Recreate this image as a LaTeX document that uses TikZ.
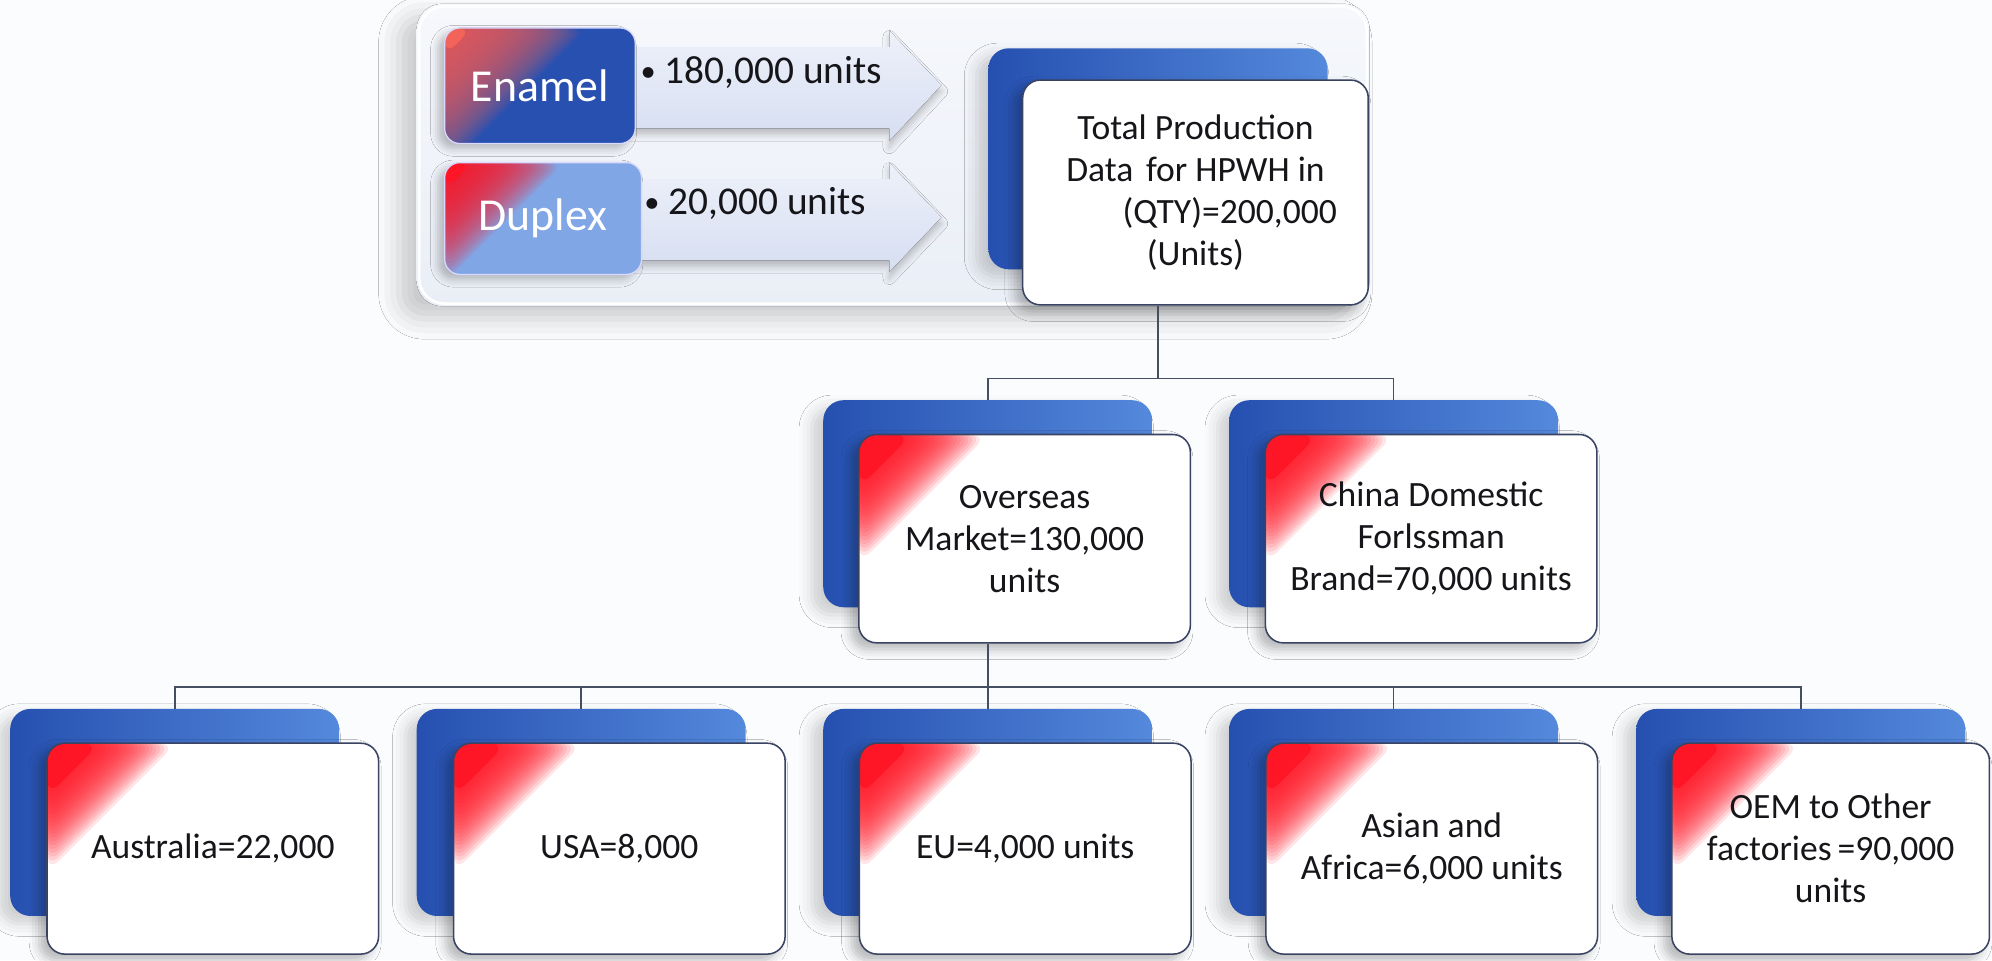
\documentclass[tikz,border=0pt]{standalone}
\usepackage{fontspec}
\setmainfont{Carlito}
\usetikzlibrary{shadows.blur,calc}
\definecolor{bgc}{RGB}{251,252,254}
\definecolor{cRed}{RGB}{255,22,38}
\definecolor{cSal}{RGB}{242,100,90}
\definecolor{cEnBlue}{RGB}{40,80,176}
\definecolor{cDupBlue}{RGB}{128,166,230}
\definecolor{cBackD}{RGB}{38,80,176}
\definecolor{cBackL}{RGB}{84,137,220}
\definecolor{cEdge}{RGB}{58,68,98}
\definecolor{cLine}{RGB}{70,78,98}
\definecolor{cPanT}{RGB}{246,248,252}
\definecolor{cPanB}{RGB}{234,238,246}
\definecolor{cArrT}{RGB}{238,241,250}
\definecolor{cArrB}{RGB}{214,222,241}
\definecolor{cTxt}{RGB}{22,22,26}
\tikzset{
  corner/.style n args={4}{path picture={
      \coordinate (pc) at (path picture bounding box.north west);
      \fill[#1] (pc) -- ++(#2,0) -- ++(-#2,#2) -- cycle;
      \foreach \k in {1,...,#3} {
        \pgfmathsetmacro\dd{#2+3*\k}
        \fill[#1, opacity=#4] (pc) -- ++(\dd,0) -- ++(-\dd,\dd) -- cycle;
      }}},
  conn/.style={draw=cLine, line width=1.3},
  backbox/.style={rounded corners=16, left color=cBackD, right color=cBackL, inner sep=0,
    blur shadow={shadow xshift=-9pt, shadow yshift=-6pt, shadow blur radius=10pt, shadow opacity=18}},
  frontbox/.style={rounded corners=14, fill=white, draw=cEdge, line width=1.2, inner sep=0,
    align=center, text=cTxt, font=\fontsize{28}{33}\selectfont,
    blur shadow={shadow xshift=-6pt, shadow yshift=-5pt, shadow blur radius=8pt, shadow opacity=28}},
  redcard/.style={frontbox, corner={cRed}{42}{20}{0.11}},
  tagbox/.style={rounded corners=12, inner sep=0, draw=white!85!blue, line width=1,
    text=white, font=\fontsize{36}{40}\selectfont,
    blur shadow={shadow xshift=-5pt, shadow yshift=-4pt, shadow blur radius=6pt, shadow opacity=25}},
  arrowshape/.style={top color=cArrT, bottom color=cArrB,
    blur shadow={shadow xshift=0pt, shadow yshift=-5pt, shadow blur radius=5pt, shadow opacity=22}},
  bullettxt/.style={anchor=west, inner sep=0, text=cTxt, font=\fontsize{31}{36}\selectfont}
}
\newcommand{\smbul}{\raisebox{1.5pt}{\fontsize{24}{24}\selectfont •}}
\begin{document}
\begin{tikzpicture}[x=1pt,y=-1pt]
\fill[bgc] (0,0) rectangle (1568,756);
\useasboundingbox (0,0) rectangle (1568,756);

% top panel
\fill[top color=cPanT, bottom color=cPanB, rounded corners=20,
  blur shadow={shadow xshift=-14pt, shadow yshift=-10pt, shadow blur radius=16pt, shadow opacity=20}]
  (328,3) rectangle (1078,241);
\draw[white, line width=2, rounded corners=20] (330,5) rectangle (1076,239);

% arrows
\fill[arrowshape] (490,37) -- (700,37) -- (700,24) -- (741,67) -- (700,111) -- (700,101) -- (490,101) -- cycle;
\fill[arrowshape] (495,141) -- (700,141) -- (700,128) -- (741,171) -- (700,214) -- (700,205) -- (495,205) -- cycle;

% tags
\node[tagbox, fill=cEnBlue, corner={cSal}{22}{30}{0.07}, minimum width=150, minimum height=91]
  (enamel) at (425,67.5) {Enamel};
\node[tagbox, fill=cDupBlue, corner={cRed}{22}{24}{0.09}, minimum width=155, minimum height=88]
  (duplex) at (427.5,172) {Duplex};
\node[bullettxt] (enq) at (504,57) {\smbul\ 180,000 units};
\node[bullettxt] (duq) at (507,160) {\smbul\ 20,000 units};

% junctions
\coordinate (j1) at (911.5,298);
\coordinate (j2) at (777.5,541);

% back boxes
\node[backbox, minimum width=267, minimum height=174] (totb) at (911.5,125) {};
\node[backbox, minimum width=259, minimum height=163] (ovb) at (777.5,396.5) {};
\node[backbox, minimum width=259, minimum height=163] (chb) at (1097,396.5) {};
\node[backbox, minimum width=259, minimum height=163] (aub) at (137.5,639.5) {};
\node[backbox, minimum width=259, minimum height=163] (usb) at (457.5,639.5) {};
\node[backbox, minimum width=259, minimum height=163] (eub) at (777.5,639.5) {};
\node[backbox, minimum width=259, minimum height=163] (asb) at (1097,639.5) {};
\node[backbox, minimum width=259, minimum height=163] (oeb) at (1417.5,639.5) {};

% front boxes
\node[frontbox, minimum width=272, minimum height=177] (totf) at (941,151.5)
  {Total Production\\Data\hspace{10pt}for HPWH in\\\hspace*{54pt}(QTY)=200,000\\(Units)};
\node[redcard, minimum width=261, minimum height=164] (ovf) at (806.5,424)
  {Overseas\\Market=130,000\\units};
\node[redcard, minimum width=261, minimum height=164] (chf) at (1126.5,424)
  {China Domestic\\Forlssman\\Brand=70,000 units};
\node[redcard, minimum width=261, minimum height=166] (auf) at (167.5,668) {Australia=22,000};
\node[redcard, minimum width=261, minimum height=166] (usf) at (487.5,668) {USA=8,000};
\node[redcard, minimum width=261, minimum height=166] (euf) at (807,668) {EU=4,000 units};
\node[redcard, minimum width=261, minimum height=166] (asf) at (1127,668) {Asian and\\Africa=6,000 units};
\node[redcard, minimum width=250, minimum height=166] (oef) at (1441,668) {OEM to Other\\factories\,=90,000\\units};

% connectors
\draw[conn] (totf.south -| totb.center) -- (j1);
\draw[conn] (ovb.north) |- (j1) -| (chb.north);
\draw[conn] (ovf.south -| ovb.center) -- (j2);
\draw[conn] (aub.north) |- (j2) -| (oeb.north);
\draw[conn] (usb.north) -- (usb.north |- j2);
\draw[conn] (eub.north) -- (j2);
\draw[conn] (asb.north) -- (asb.north |- j2);
\end{tikzpicture}
\end{document}
